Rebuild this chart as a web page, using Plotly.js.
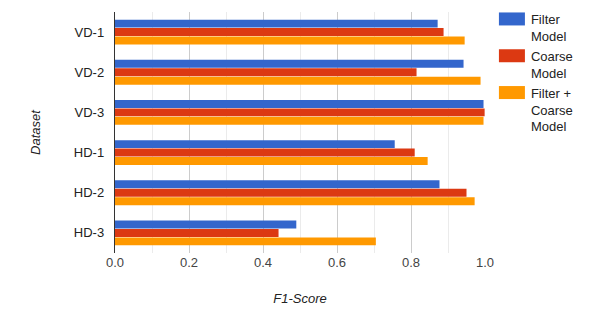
<!DOCTYPE html>
<html>
<head>
<meta charset="utf-8">
<script src="https://cdn.plot.ly/plotly-3.0.1.min.js"></script>
<style>
  html, body { margin: 0; padding: 0; background: #fff; }
  #plot { width: 600px; height: 327px; }
</style>
</head>
<body>
<div id="plot"></div>
<script>
// datasets, top to bottom
const datasets = ['VD-1', 'VD-2', 'VD-3', 'HD-1', 'HD-2', 'HD-3'];

// F1 scores per model
const filterModel = [0.872, 0.942, 0.996, 0.756, 0.877, 0.490];
const coarseModel = [0.888, 0.815, 0.999, 0.810, 0.950, 0.442];
const filterCoarseModel = [0.945, 0.988, 0.996, 0.845, 0.972, 0.705];

const font = 'Arial, "Liberation Sans", sans-serif';

function makeTrace(name, values, color) {
    return {
        y: datasets,
        x: values,
        name: name,
        type: 'bar',
        orientation: 'h',
        marker: { color: color },
        hoverinfo: 'x+y'
    };
}

const traces = [
    makeTrace('Filter<br>Model', filterModel, '#3366cc'),
    makeTrace('Coarse<br>Model', coarseModel, '#dc3912'),
    makeTrace('Filter +<br>Coarse<br>Model', filterCoarseModel, '#ff9900')
];

const layout = {
    width: 600,
    height: 327,
    // top margin kept small so the legend can sit above the plot top
    margin: { l: 115, r: 115, t: 4, b: 74 },
    barmode: 'group',
    bargap: 0.37,
    bargroupgap: 0.06,
    font: { family: font, size: 13, color: '#222' },
    paper_bgcolor: '#fff',
    plot_bgcolor: '#fff',
    xaxis: {
        range: [0, 1],
        dtick: 0.2,
        tickformat: '.1f',
        gridcolor: '#cccccc',
        zeroline: false,
        showline: false,
        ticks: '',
        tickfont: { size: 13, color: '#444' },
        minor: { dtick: 0.1, showgrid: true, gridcolor: '#ebebeb', ticks: '' },
        title: { text: '<i>F1-Score</i>', font: { size: 13, color: '#222' }, standoff: 24 }
    },
    yaxis: {
        domain: [0, 0.968],
        autorange: 'reversed',
        showline: true,
        linecolor: '#333',
        linewidth: 1,
        showgrid: false,
        ticks: '',
        ticksuffix: '  ',
        tickfont: { size: 13, color: '#222' },
        title: { text: '<i>Dataset</i>', font: { size: 13, color: '#222' }, standoff: 30 }
    },
    legend: {
        x: 1.016,
        y: 1.0,
        xanchor: 'left',
        yanchor: 'top',
        valign: 'top',
        font: { size: 13, color: '#222' },
        itemwidth: 30
    },
    showlegend: true
};

Plotly.newPlot('plot', traces, layout, { displayModeBar: false, staticPlot: true }).then(() => {
    // google-style wide legend swatches
    document.querySelectorAll('.legendpoints path').forEach(p => {
        p.setAttribute('d', 'M14,6.5H-12V-6.5H14Z');
    });
});
</script>
</body>
</html>
